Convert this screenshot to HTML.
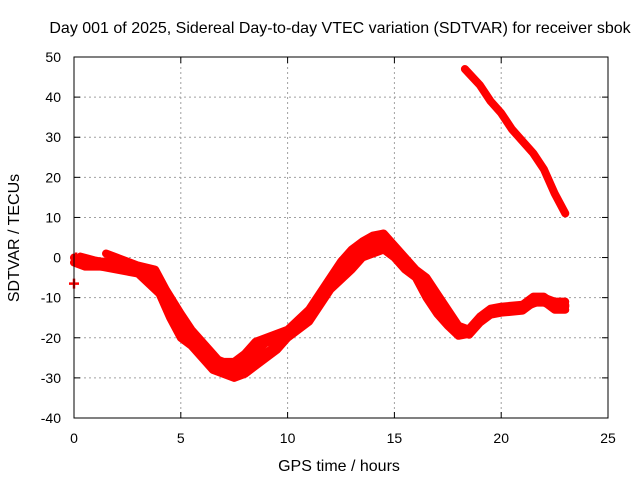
<!DOCTYPE html>
<html><head><meta charset="utf-8"><style>
body{margin:0;background:#fff}
svg text{font-family:"Liberation Sans",sans-serif;font-size:14px;fill:#000}
svg text.big{font-size:16px}
</style></head><body>
<svg id="chart" width="640" height="480">
<text class="big" x="340" y="33" text-anchor="middle">Day 001 of 2025, Sidereal Day-to-day VTEC variation (SDTVAR) for receiver sbok</text>
<text class="big" x="339" y="471" text-anchor="middle">GPS time / hours</text>
<text class="big" transform="translate(19,238) rotate(-90)" text-anchor="middle">SDTVAR / TECUs</text>
<g id="grid"></g><g id="series"></g>
<rect x="74" y="57" width="534" height="361" fill="none" stroke="#000" stroke-width="1"/>
</svg>
<script>
const xTicks=[0,5,10,15,20,25];
const yTicks=[-40,-30,-20,-10,0,10,20,30,40,50];
const hoursA=[0,0.5,1.5,2.5,3.5,4,4.5,5,5.5,6,6.5,7,7.5,8,8.5,9,10,11,12,12.5,13,13.5,14,14.5,15,15.5,16,16.5,17,17.5,18,18.5,19,19.5,20,21,21.5,22,22.5,23];
const valuesA=[0,-1,-1,-2,-3,-6,-10,-15,-19,-22,-25,-26,-26,-24,-21,-20,-18,-13,-5,-1,2,4,5.5,6,3,0,-3,-5,-9,-13,-17,-18,-15,-13,-12.5,-12,-10,-10,-11,-11];
const hoursB=[0.3,1,2,3,4,4.5,5,5.5,6,6.5,7,7.5,8,8.5,9,9.5,10,11,12,13,13.5,14,14.5,15,15.5,16,16.5,17,17.5,18,18.5,19,19.5,20,21,21.5,22,22.5,23];
const valuesB=[-1,-2,-3,-4,-9,-15,-20,-22,-25,-28,-29,-30,-29,-27,-25,-23,-20,-16,-8,-3,0,1,2,0,-3,-5,-10,-14,-17,-19.5,-19,-16,-14,-13.5,-13,-11,-11,-13,-13];
const hoursC=[1.5,2,3,3.8,4.3,5,5.5,6,6.5,7,7.5,8,8.5,9,10,11,12,13,13.5,14,14.5,15,16,16.5,17,17.5,18,18.5,19,20,21,22,23];
const valuesC=[1,0,-2,-3,-8,-14,-18,-21,-24,-27,-28,-26,-24,-21,-19,-14,-6,0,2,4,4,1,-4,-7,-11,-15,-18,-18,-15,-13,-12.5,-10.5,-12];
const hoursD=[18.3,19,19.5,20,20.5,21,21.5,22,22.5,23];
const valuesD=[47,43,39,36,32,29,26,22,16,11];
const hoursPts=[0,0.1];
const valuesPts=[-6.5,0];
const NS="http://www.w3.org/2000/svg";
const x0=74,x1=608,y0=418,y1=57;
const sx=v=>x0+(v-0)/(25-0)*(x1-x0);
const sy=v=>y0-(v+40)/(90)*(y0-y1);
const grid=document.getElementById('grid'),svg=document.getElementById('chart'),ser=document.getElementById('series');
function mk(t,a,p){const e=document.createElementNS(NS,t);for(const k in a)e.setAttribute(k,a[k]);(p||svg).appendChild(e);return e;}
xTicks.forEach(t=>{const X=sx(t);
 if(t>0&&t<25){const l=mk('line',{x1:X,x2:X,y1:y1,y2:y0,stroke:'#a0a0a0','stroke-dasharray':'2,3'},grid);}
 mk('line',{x1:X,x2:X,y1:y0,y2:y0-6,stroke:'#000'},grid);mk('line',{x1:X,x2:X,y1:y1,y2:y1+6,stroke:'#000'},grid);
 const tx=mk('text',{x:X,y:443,'text-anchor':'middle'});tx.textContent=t;
 });
yTicks.forEach(t=>{const Y=sy(t);
 if(t>-40&&t<50){const l=mk('line',{x1:x0,x2:x1,y1:Y,y2:Y,stroke:'#a0a0a0','stroke-dasharray':'2,3'},grid);}
 mk('line',{x1:x0,x2:x0+6,y1:Y,y2:Y,stroke:'#000'},grid);mk('line',{x1:x1,x2:x1-6,y1:Y,y2:Y,stroke:'#000'},grid);
 const tx=mk('text',{x:61,y:Y+5,'text-anchor':'end'});tx.textContent=t;
 });
function line(hs,vs,off,name){
 const pts=hs.map((h,i)=>sx(h)+','+(sy(vs[i])+off)).join(' ');
 const p=mk('polyline',{points:pts,fill:'none',stroke:'#ff0000','stroke-width':8,'stroke-linejoin':'round','stroke-linecap':'round'},ser);
 
 
}
line(hoursA,valuesA,0,'series-a');line(hoursA,valuesA,5,'series-a2');
line(hoursB,valuesB,0,'series-b');line(hoursB,valuesB,-5,'series-b2');
line(hoursC,valuesC,0,'series-c');
line(hoursD,valuesD,0,'series-d');
hoursPts.forEach((h,i)=>{const X=sx(h),Y=sy(valuesPts[i]);
 const g=mk('path',{d:`M${X-5},${Y}H${X+5}M${X},${Y-5}V${Y+5}`,stroke:'#ff0000','stroke-width':2.5},ser);
 
 });
</script>
</body></html>
